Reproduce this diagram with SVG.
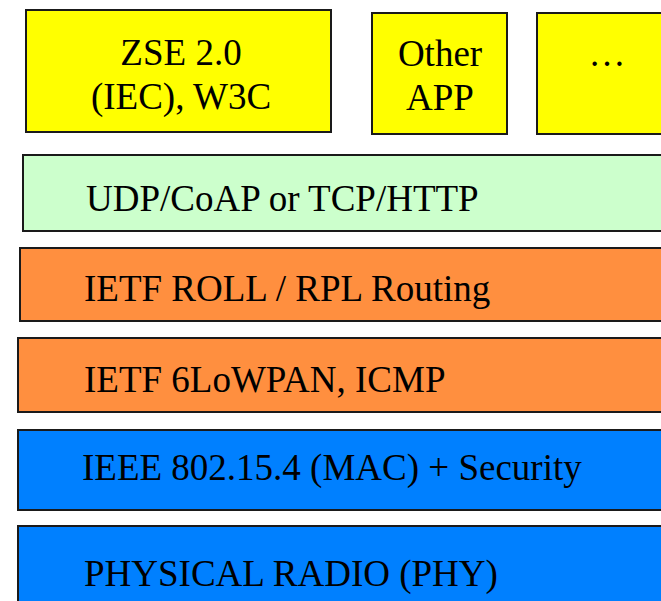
<svg xmlns="http://www.w3.org/2000/svg" width="661" height="601" viewBox="0 0 661 601">
<style>
.box{stroke:#1a1a1a;stroke-width:2}
.app{fill:#ffff00}
.tr{fill:#ccffcc}
.nw{fill:#ff8f3f}
.mac{fill:#0080ff}
.c{text-anchor:middle}
</style>
<rect width="661" height="601" fill="#ffffff"/>
<g font-family="Liberation Serif, serif" font-size="37" fill="#000000">
<g id="zse">
<rect class="box app" x="26" y="10" width="305" height="122"/>
<text class="c" x="181" y="65">ZSE 2.0</text>
<text class="c" x="181" y="109">(IEC), W3C</text>
</g>
<g id="other-app">
<rect class="box app" x="372" y="13" width="135" height="121"/>
<text class="c" x="440" y="66">Other</text>
<text class="c" x="440" y="110">APP</text>
</g>
<g id="more-apps">
<rect class="box app" x="537" y="13" width="140" height="121"/>
<text class="c" x="607" y="66">…</text>
</g>
<g id="transport">
<rect class="box tr" x="23" y="155" width="660" height="76"/>
<text x="86" y="211">UDP/CoAP or TCP/HTTP</text>
</g>
<g id="routing">
<rect class="box nw" x="20" y="248" width="660" height="73"/>
<text x="84" y="301">IETF ROLL / RPL Routing</text>
</g>
<g id="adaptation">
<rect class="box nw" x="18" y="338" width="660" height="74"/>
<text x="84" y="392">IETF 6LoWPAN, ICMP</text>
</g>
<g id="mac">
<rect class="box mac" x="18" y="430" width="660" height="80"/>
<text x="82" y="480">IEEE 802.15.4 (MAC) + Security</text>
</g>
<g id="phy">
<rect class="box mac" x="18" y="526" width="660" height="90"/>
<text x="84" y="586">PHYSICAL RADIO (PHY)</text>
</g>
</g>
<g id="connectors"></g>
</svg>
